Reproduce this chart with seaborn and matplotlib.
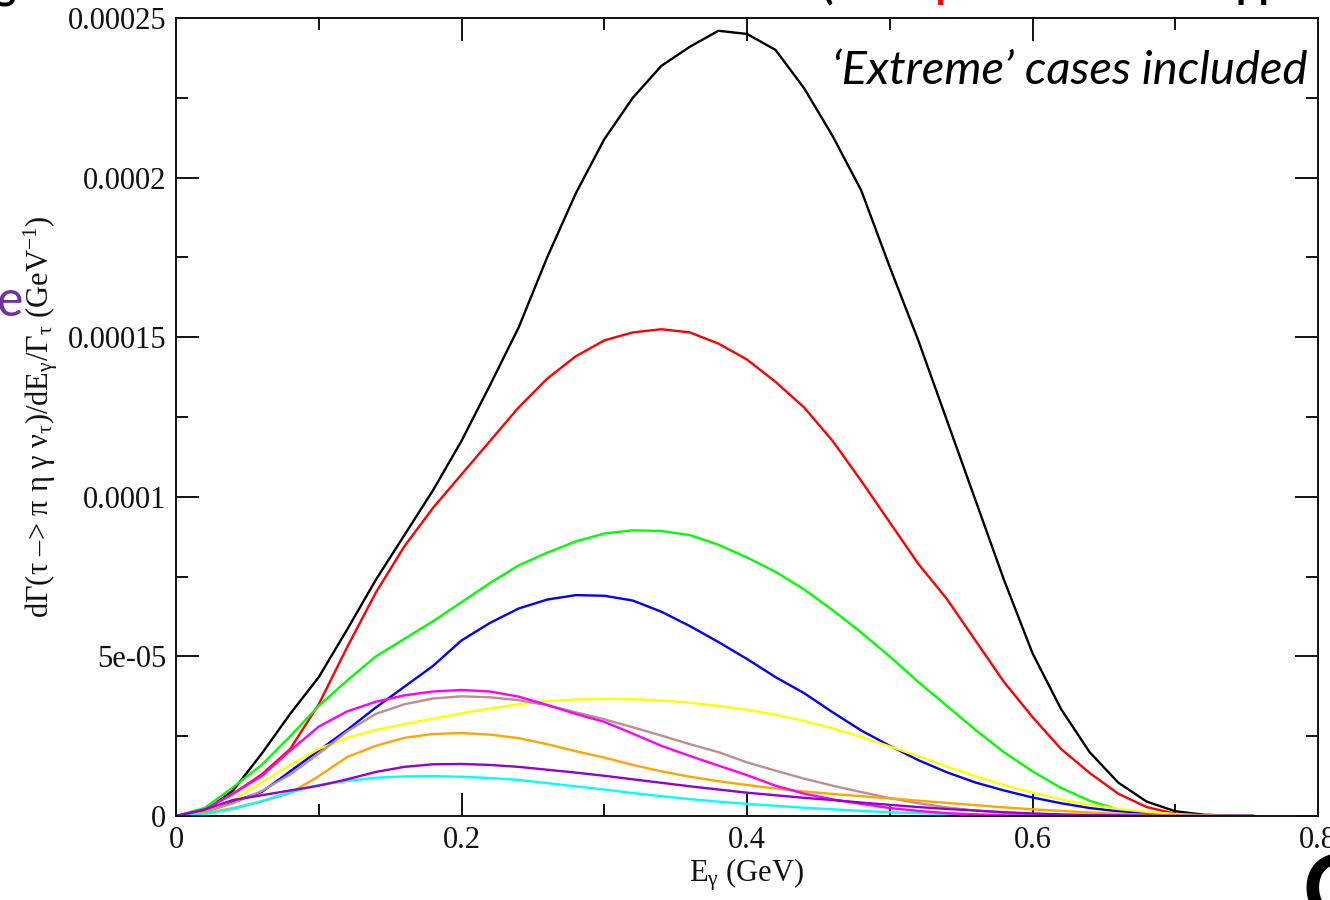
import numpy as np
import matplotlib
matplotlib.use("Agg")
import matplotlib.pyplot as plt
from matplotlib.ticker import FixedLocator, MultipleLocator
import seaborn as sns

# Photon energy grid (GeV)
e_gamma = [0.00, 0.02, 0.04, 0.06, 0.08, 0.10, 0.12, 0.14, 0.16, 0.18,
           0.20, 0.22, 0.24, 0.26, 0.28, 0.30, 0.32, 0.34, 0.36, 0.38,
           0.40, 0.42, 0.44, 0.46, 0.48, 0.50, 0.52, 0.54, 0.56, 0.58,
           0.60, 0.62, 0.64, 0.66, 0.68, 0.70, 0.72, 0.74, 0.755]

# Spectra, in units of 1e-5 GeV^-1
black = [0, 0.15, 0.8, 1.95, 3.2, 4.35, 5.85, 7.4, 8.8, 10.2,
         11.75, 13.5, 15.3, 17.5, 19.5, 21.2, 22.5, 23.5, 24.1, 24.6,
         24.5, 24.0, 22.8, 21.3, 19.6, 17.2, 14.9, 12.4, 9.9, 7.4,
         5.1, 3.35, 2.0, 1.05, 0.45, 0.15, 0.04, 0.01, 0]
red = [0, 0.2, 0.7, 1.3, 2.1, 3.5, 5.3, 7.0, 8.45, 9.65,
       10.7, 11.75, 12.8, 13.7, 14.4, 14.9, 15.15, 15.25, 15.15, 14.8,
       14.3, 13.6, 12.8, 11.75, 10.5, 9.2, 7.9, 6.8, 5.5, 4.2,
       3.1, 2.1, 1.35, 0.7, 0.28, 0.07, 0.01, 0, 0]
green = [0, 0.25, 0.9, 1.6, 2.5, 3.45, 4.25, 5.0, 5.55, 6.1,
         6.7, 7.3, 7.85, 8.25, 8.6, 8.85, 8.95, 8.93, 8.8, 8.5,
         8.1, 7.65, 7.1, 6.45, 5.75, 5.0, 4.2, 3.45, 2.7, 2.0,
         1.4, 0.88, 0.48, 0.2, 0.06, 0.01, 0, 0, 0]
blue = [0, 0.15, 0.45, 0.75, 1.4, 2.05, 2.7, 3.4, 4.05, 4.7,
        5.5, 6.05, 6.5, 6.78, 6.92, 6.9, 6.75, 6.4, 5.95, 5.45,
        4.92, 4.35, 3.85, 3.25, 2.68, 2.2, 1.75, 1.37, 1.05, 0.8,
        0.58, 0.4, 0.25, 0.15, 0.09, 0.04, 0.01, 0, 0]
yellow = [0, 0.15, 0.5, 1.05, 1.6, 2.1, 2.45, 2.7, 2.88, 3.05,
          3.22, 3.37, 3.5, 3.6, 3.65, 3.67, 3.66, 3.62, 3.55, 3.45,
          3.33, 3.18, 2.98, 2.75, 2.48, 2.18, 1.87, 1.55, 1.25, 0.97,
          0.73, 0.52, 0.35, 0.22, 0.13, 0.06, 0.02, 0, 0]
brown = [0, 0.12, 0.4, 0.78, 1.3, 1.95, 2.65, 3.2, 3.5, 3.68,
         3.75, 3.72, 3.63, 3.47, 3.25, 3.03, 2.78, 2.52, 2.25, 2.0,
         1.68, 1.42, 1.17, 0.95, 0.75, 0.56, 0.4, 0.27, 0.17, 0.1,
         0.06, 0.03, 0.01, 0, 0, 0, 0, 0, 0]
orange = [0, 0.08, 0.25, 0.45, 0.72, 1.25, 1.85, 2.2, 2.45, 2.57,
          2.6, 2.55, 2.44, 2.25, 2.03, 1.83, 1.6, 1.4, 1.23, 1.09,
          0.97, 0.86, 0.77, 0.69, 0.62, 0.55, 0.48, 0.41, 0.34, 0.27,
          0.21, 0.16, 0.11, 0.07, 0.04, 0.02, 0.01, 0, 0]
cyan = [0, 0.06, 0.22, 0.47, 0.74, 0.97, 1.1, 1.2, 1.24, 1.25,
        1.23, 1.19, 1.13, 1.03, 0.93, 0.83, 0.72, 0.62, 0.53, 0.45,
        0.38, 0.32, 0.26, 0.21, 0.16, 0.12, 0.09, 0.06, 0.04, 0.02,
        0.01, 0, 0, 0, 0, 0, 0, 0, 0]
magenta = [0, 0.2, 0.7, 1.25, 2.05, 2.8, 3.28, 3.58, 3.78, 3.9,
           3.95, 3.9, 3.74, 3.48, 3.2, 2.95, 2.58, 2.2, 1.88, 1.58,
           1.28, 0.95, 0.7, 0.52, 0.38, 0.25, 0.16, 0.09, 0.05, 0.02,
           0.01, 0, 0, 0, 0, 0, 0, 0, 0]
violet = [0, 0.2, 0.5, 0.65, 0.8, 0.95, 1.15, 1.38, 1.54, 1.62,
          1.63, 1.6, 1.54, 1.45, 1.36, 1.26, 1.15, 1.04, 0.93, 0.83,
          0.73, 0.65, 0.57, 0.5, 0.42, 0.35, 0.28, 0.22, 0.17, 0.12,
          0.08, 0.05, 0.03, 0.02, 0.01, 0, 0, 0, 0]

curves = [
    (black, "#000000"),
    (red, "#ff0000"),
    (green, "#00ff00"),
    (blue, "#0000ff"),
    (yellow, "#ffff00"),
    (brown, "#bc8f8f"),
    (orange, "#ffa500"),
    (cyan, "#00ffff"),
    (magenta, "#ff00ff"),
    (violet, "#9400d3"),
]

x_ticks = [0.0, 0.2, 0.4, 0.6, 0.8]
x_tick_labels = ["0", "0.2", "0.4", "0.6", "0.8"]
y_ticks = [0.0, 5e-05, 1e-04, 1.5e-04, 2e-04, 2.5e-04]
y_tick_labels = ["0", "5e-05", "0.0001", "0.00015", "0.0002", "0.00025"]

sns.set_theme(style="ticks")
plt.rcParams["font.family"] = ["Liberation Serif", "DejaVu Serif"]
plt.rcParams["mathtext.fontset"] = "custom"
plt.rcParams["mathtext.rm"] = "Liberation Serif"
plt.rcParams["mathtext.it"] = "Liberation Serif:italic"

fig = plt.figure(figsize=(13.3, 9.0), dpi=100)
ax = fig.add_axes([176 / 1330, 1 - 816 / 900, 1142 / 1330, 798 / 900])

x = np.array(e_gamma)
for vals, color in curves:
    sns.lineplot(x=x, y=np.array(vals) * 1e-5, color=color, linewidth=1.7,
                 estimator=None, sort=False, ax=ax)

ax.set_xlim(0, 0.8)
ax.set_ylim(0, 0.00025)
ax.xaxis.set_major_locator(FixedLocator(x_ticks))
ax.set_xticklabels(x_tick_labels)
ax.xaxis.set_minor_locator(MultipleLocator(0.1))
ax.yaxis.set_major_locator(FixedLocator(y_ticks))
ax.set_yticklabels(y_tick_labels)
ax.yaxis.set_minor_locator(MultipleLocator(2.5e-05))

ax.tick_params(which="both", direction="in", top=True, right=True,
               colors="#111111", width=1.4, labelsize=22)
ax.tick_params(which="major", length=16.5, pad=7)
ax.tick_params(which="minor", length=8.3)
for side in ax.spines.values():
    side.set_visible(True)
    side.set_linewidth(1.4)
    side.set_color("#111111")

ax.set_xlabel(r"E$_\mathregular{γ}$ (GeV)", fontsize=22, color="#111111")
ax.xaxis.set_label_coords(0.5, -0.074)
ax.xaxis.label.set_va("center")
ax.set_ylabel(r"dΓ(τ –> π η γ ν$_\mathregular{τ}$)/dE$_\mathregular{γ}$/Γ$_\mathregular{τ}$ (GeV$^\mathregular{-1}$)",
              fontsize=22, color="#111111")
ax.yaxis.set_label_coords(-0.119, 0.5)
ax.yaxis.label.set_va("center")

# Slide annotation inside the plot
fig.text(1307 / 1330, 1 - 84 / 900, "\u2018Extreme\u2019 cases included",
         ha="right", va="baseline", fontsize=34, fontstyle="italic",
         family=["Lato", "DejaVu Sans"], color="#000000")

# Slide text running off the edges
fig.text(23 / 1330, 1 - 316 / 900, "e", ha="right", va="baseline",
         fontsize=36, family=["Lato", "DejaVu Sans"], color="#7030a0")
fig.text(1303 / 1330, 1 - 853 / 900, "C", ha="left", va="top",
         fontsize=66, fontweight="bold", family=["Lato", "DejaVu Sans"],
         color="#000000")
top_y = 1 + 2 / 900
fig.text(-6 / 1330, top_y, "g", ha="left", va="baseline", fontsize=30,
         fontweight="bold", family=["Lato", "DejaVu Sans"], color="#000000")
fig.text(822 / 1330, top_y, "(", ha="left", va="baseline", fontsize=30,
         fontweight="bold", family=["Lato", "DejaVu Sans"], color="#000000")
fig.text(928 / 1330, top_y, "γ", ha="left", va="baseline", fontsize=30,
         fontweight="bold", family=["Lato", "DejaVu Sans"], color="#ff0000")
fig.text(1236 / 1330, top_y, "pp", ha="left", va="baseline", fontsize=30,
         fontweight="bold", family=["Lato", "DejaVu Sans"], color="#000000")

fig.savefig("out.png", dpi=100, facecolor="white")
